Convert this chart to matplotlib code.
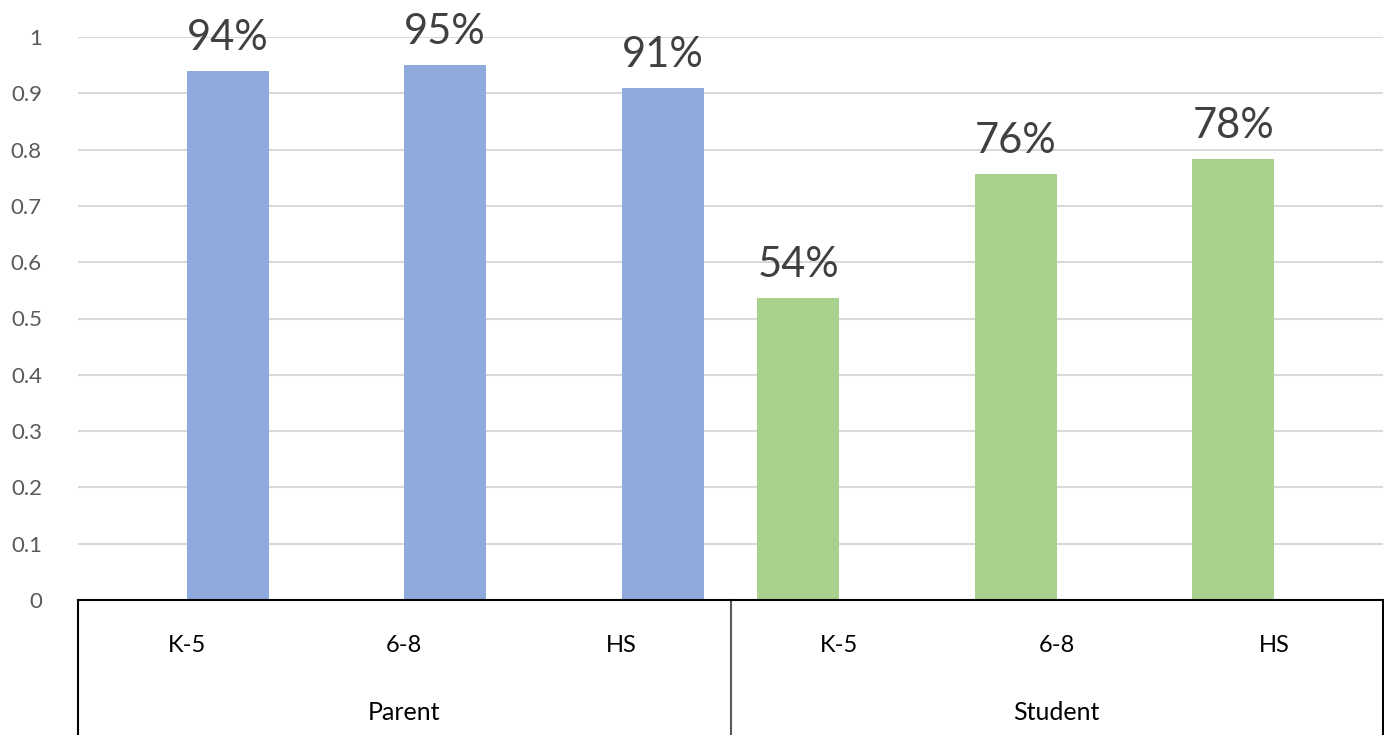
import matplotlib
matplotlib.use("Agg")
import matplotlib.pyplot as plt
import numpy as np

# Share of respondents, by group and grade band
groups = ["Parent", "Student"]
grades = ["K-5", "6-8", "HS"]
parent_values = [0.94, 0.95, 0.91]
student_values = [0.536, 0.757, 0.783]
y_ticks = [0, 0.1, 0.2, 0.3, 0.4, 0.5, 0.6, 0.7, 0.8, 0.9, 1]
y_tick_labels = ["0", "0.1", "0.2", "0.3", "0.4", "0.5", "0.6", "0.7", "0.8", "0.9", "1"]

plt.rcParams["font.family"] = ["Lato", "DejaVu Sans"]

W, H = 1384, 735
fig = plt.figure(figsize=(W / 100, H / 100), dpi=100)
left, right, top, bottom = 78, 1383, 37, 600
ax = fig.add_axes([left / W, (H - bottom) / H, (right - left) / W, (bottom - top) / H])

n = len(groups) * len(grades)
ax.set_xlim(0, n)
ax.set_ylim(0, 1)

bar_w = 0.377
blue = "#8FAADC"
green = "#A9D18E"
x_parent = np.arange(len(grades)) + 0.5
x_student = np.arange(len(grades)) + 0.5 + len(grades)
pb = ax.bar(x_parent + bar_w / 2, parent_values, width=bar_w, color=blue, zorder=3)
sb = ax.bar(x_student - bar_w / 2, student_values, width=bar_w, color=green, zorder=3)

for bars, vals in ((pb, parent_values), (sb, student_values)):
    for b, v in zip(bars, vals):
        ax.annotate(f"{v:.0%}", (b.get_x() + b.get_width() / 2, v),
                    xytext=(0, 10), textcoords="offset points",
                    ha="center", va="bottom", fontsize=30, color="#404040",
                    annotation_clip=False)

# value axis
ax.set_yticks(y_ticks)
ax.set_yticklabels(y_tick_labels, fontsize=16, color="#595959")
ax.tick_params(axis="y", length=0, pad=26)
for yv in y_ticks[1:]:
    ax.axhline(yv, color="#D9D9D9", lw=1.5, zorder=1)

for s in ("top", "right", "left"):
    ax.spines[s].set_visible(False)
ax.spines["bottom"].set_color("#000000")
ax.spines["bottom"].set_linewidth(1.5)
ax.spines["bottom"].set_zorder(4)

# two-level category axis
ax.set_xticks([])
trans = ax.get_xaxis_transform()
depth = -(H - bottom) / (bottom - top)
for xv, c in zip([0, len(grades), n], ["#000000", "#595959", "#000000"]):
    ax.plot([xv, xv], [0, depth], transform=trans, color=c, lw=1.5, clip_on=False)

cat_y = -(645 - bottom) / (bottom - top)
grp_y = -(712 - bottom) / (bottom - top)
for i, g in enumerate(groups):
    for j, gr in enumerate(grades):
        ax.text(i * len(grades) + j + 0.5, cat_y, gr, transform=trans,
                ha="center", va="center", fontsize=17, color="#000000")
    ax.text(i * len(grades) + len(grades) / 2, grp_y, g, transform=trans,
            ha="center", va="center", fontsize=18, color="#000000")

fig.savefig("out.png", dpi=100, facecolor="white")
